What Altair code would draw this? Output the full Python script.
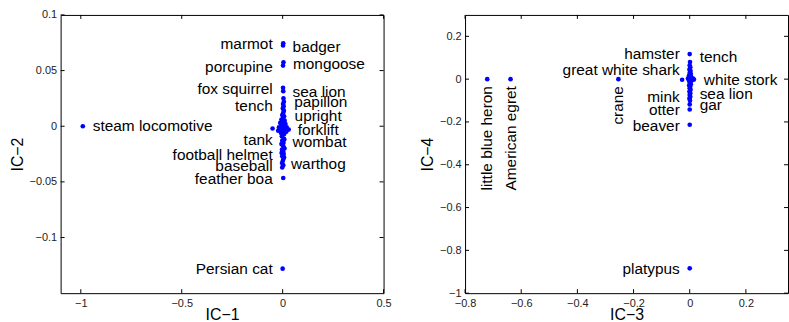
import altair as alt
import pandas as pd

FONT = "Liberation Sans"
BLUE = "#0000ff"

# ---------------- Left panel (IC-1 vs IC-2) ----------------
left_px = [-0.99, 0.0, 0.003, -0.05, 0.003, 0.002, 0.004, 0.002, 0.002, 0.003,
           0.004, 0.006, 0.002, 0.005, 0.001, 0.006, 0.003, -0.002, 0.007, 0.002,
           -0.006, 0.010, 0.001, -0.012, 0.014, -0.004, 0.006, -0.018, 0.020, 0.0,
           -0.010, 0.012, 0.030, -0.022, 0.004, 0.018, -0.008, 0.008, -0.004, 0.006,
           -0.002, 0.004, 0.0, 0.006, -0.003, 0.003, 0.005, -0.002, 0.004, 0.001,
           -0.003, 0.003, -0.002, 0.008, -0.006, 0.009, -0.005, 0.007]
left_py = [0.0, -0.128, -0.0465, -0.002, 0.0745, 0.0725, 0.0575, 0.0545, 0.0345, 0.0315,
           0.025, 0.022, 0.020, 0.018, 0.016, 0.014, 0.012, 0.010, 0.009, 0.007,
           0.006, 0.005, 0.004, 0.003, 0.002, 0.001, 0.0, -0.001, -0.001, -0.002,
           -0.003, -0.003, -0.003, -0.004, -0.005, -0.005, -0.006, -0.007, -0.009, -0.011,
           -0.013, -0.015, -0.017, -0.019, -0.021, -0.023, -0.025, -0.027, -0.029, -0.031,
           -0.033, -0.035, -0.037, -0.012, -0.016, -0.020, -0.024, -0.028]

left_lab_name = ["marmot", "porcupine", "fox squirrel", "tench", "tank", "football helmet",
                 "baseball", "feather boa", "Persian cat",
                 "steam locomotive", "badger", "mongoose", "sea lion", "papillon", "upright",
                 "forklift", "wombat", "warthog"]
left_lab_x = [0.0, 0.0, 0.0, 0.0, 0.0, 0.0, 0.0, 0.0, 0.0,
              -0.99, 0.0, 0.002, 0.0, 0.008, 0.01, 0.025, 0.0, -0.008]
left_lab_y = [0.0736, 0.0528, 0.0335, 0.0178, -0.0125, -0.0258, -0.0362, -0.047, -0.1287,
              0.0, 0.0714, 0.0563, 0.0305, 0.0216, 0.0089, -0.003, -0.014, -0.0338]
left_lab_side = ["L"] * 9 + ["R"] * 9

left_xticks = [-1, -0.5, 0, 0.5]
left_yticks = [0.1, 0.05, 0, -0.05, -0.1]
left_xdom = [-1.1, 0.5]
left_ydom = [-0.15, 0.1]

# ---------------- Right panel (IC-3 vs IC-4) ----------------
right_px = [-0.721, -0.638, -0.254, 0.0, -0.027, 0.0, 0.001, 0.0, 0.002, -0.001,
            0.003, 0.0, 0.004, -0.002, 0.005, 0.0, -0.006, 0.012, 0.006, -0.004,
            0.015, 0.008, -0.002, 0.003, 0.0, 0.004, -0.002, 0.002, 0.0, 0.003,
            -0.001, 0.002, 0.0, 0.002, -0.001, 0.001, 0.0, 0.0, 0.0]
right_py = [0.0, 0.0, 0.0, -0.884, -0.003, 0.117, 0.08, 0.065, 0.055, 0.045,
            0.038, 0.03, 0.024, 0.018, 0.012, 0.008, 0.004, 0.003, 0.0, -0.002,
            -0.002, -0.005, -0.008, -0.013, -0.018, -0.024, -0.03, -0.036, -0.043, -0.05,
            -0.058, -0.066, -0.074, -0.082, -0.09, -0.1, -0.118, -0.142, -0.213]

right_lab_name = ["hamster", "great white shark", "mink", "otter", "beaver", "platypus",
                  "tench", "white stork", "sea lion", "gar",
                  "little blue heron", "American egret", "crane"]
right_lab_x = [0.0, 0.0, 0.0, 0.0, 0.0, 0.0,
               0.0, 0.015, 0.0, 0.0,
               -0.721, -0.638, -0.254]
right_lab_y = [0.116, 0.042, -0.085, -0.144, -0.219, -0.887,
               0.105, -0.005, -0.069, -0.12,
               0.0, 0.0, 0.0]
right_lab_side = ["L"] * 6 + ["R"] * 4 + ["V"] * 3

right_xticks = [-0.8, -0.6, -0.4, -0.2, 0, 0.2]
right_yticks = [0.2, 0, -0.2, -0.4, -0.6, -0.8, -1]
right_xdom = [-0.8, 0.35]
right_ydom = [-1.0, 0.3]

W, H = 325, 280


def panel(px, py, lname, lx, ly, lside, xticks, yticks, xdom, ydom, xtitle, ytitle):
    pts = pd.DataFrame({"x": px, "y": py})
    labs = pd.DataFrame({"name": lname, "x": lx, "y": ly, "side": lside})
    xt = pd.DataFrame({"v": xticks})
    yt = pd.DataFrame({"v": yticks})

    xscale = alt.Scale(domain=xdom, nice=False, zero=False)
    yscale = alt.Scale(domain=ydom, nice=False, zero=False)

    xaxis = alt.Axis(values=xticks, format="~g", ticks=False, domain=False, grid=False,
                     labelFont=FONT, labelFontSize=11, labelColor="#222",
                     labelPadding=4, labelFlush=False, labelOverlap=False,
                     title=xtitle, titleFont=FONT, titleFontSize=16,
                     titleFontWeight="normal", titleColor="black", titlePadding=-1)
    yaxis = alt.Axis(values=yticks, format="~g", ticks=False, domain=False, grid=False,
                     labelFont=FONT, labelFontSize=11, labelColor="#222",
                     labelPadding=4, labelFlush=False, labelOverlap=False,
                     title=ytitle, titleFont=FONT, titleFontSize=16,
                     titleFontWeight="normal", titleColor="black", titlePadding=4)

    base_pts = alt.Chart(pts).mark_circle(size=22, color=BLUE, opacity=1).encode(
        x=alt.X("x:Q", scale=xscale, axis=xaxis),
        y=alt.Y("y:Q", scale=yscale, axis=yaxis),
    )

    txt = dict(font=FONT, fontSize=15.5, color="black", baseline="middle")
    lab_r = alt.Chart(labs).transform_filter(alt.datum.side == "R").mark_text(
        align="left", dx=10, **txt).encode(
        x=alt.X("x:Q", scale=xscale), y=alt.Y("y:Q", scale=yscale), text="name:N")
    lab_l = alt.Chart(labs).transform_filter(alt.datum.side == "L").mark_text(
        align="right", dx=-10, **txt).encode(
        x=alt.X("x:Q", scale=xscale), y=alt.Y("y:Q", scale=yscale), text="name:N")
    lab_v = alt.Chart(labs).transform_filter(alt.datum.side == "V").mark_text(
        align="right", dx=-7, angle=270, **txt).encode(
        x=alt.X("x:Q", scale=xscale), y=alt.Y("y:Q", scale=yscale), text="name:N")

    tk = dict(color="black", strokeWidth=1)
    t_bottom = alt.Chart(xt).mark_rule(**tk).encode(
        x=alt.X("v:Q", scale=xscale), y=alt.value(H), y2=alt.value(H - 4))
    t_top = alt.Chart(xt).mark_rule(**tk).encode(
        x=alt.X("v:Q", scale=xscale), y=alt.value(0), y2=alt.value(4))
    t_left = alt.Chart(yt).mark_rule(**tk).encode(
        y=alt.Y("v:Q", scale=yscale), x=alt.value(0), x2=alt.value(4))
    t_right = alt.Chart(yt).mark_rule(**tk).encode(
        y=alt.Y("v:Q", scale=yscale), x=alt.value(W), x2=alt.value(W - 4))

    return alt.layer(base_pts, t_bottom, t_top, t_left, t_right, lab_l, lab_r, lab_v).properties(
        width=W, height=H)


left = panel(left_px, left_py, left_lab_name, left_lab_x, left_lab_y, left_lab_side,
             left_xticks, left_yticks, left_xdom, left_ydom, "IC−1", "IC−2")
right = panel(right_px, right_py, right_lab_name, right_lab_x, right_lab_y, right_lab_side,
              right_xticks, right_yticks, right_xdom, right_ydom, "IC−3", "IC−4")

chart = alt.hconcat(left, right, spacing=26).properties(
    padding={"left": 8, "top": 7, "right": 0, "bottom": 0},
    background="white",
).configure_view(stroke="black", strokeWidth=1)

chart.save("out.html", embed_options={"renderer": "svg", "actions": False})
